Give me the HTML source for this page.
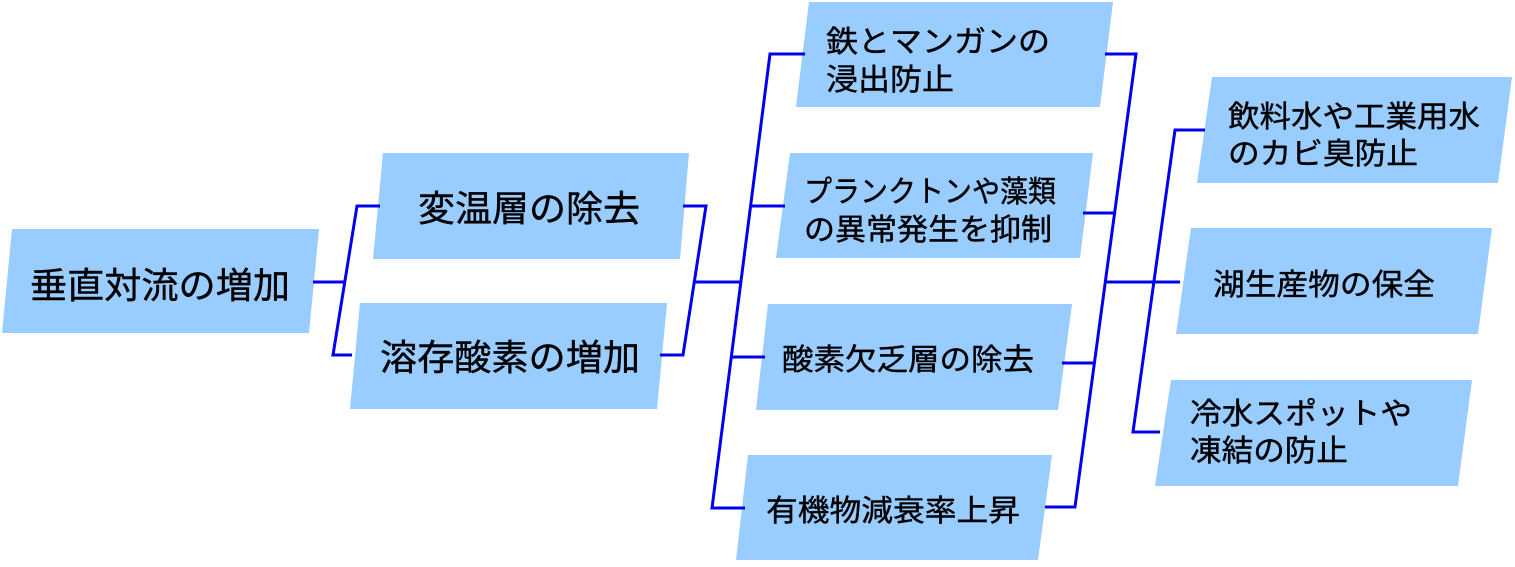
<!DOCTYPE html>
<html><head><meta charset="utf-8"><style>
html,body{margin:0;padding:0;background:#fff;}
svg{display:block;}
text{font-family:"Liberation Sans","Noto Sans CJK JP",sans-serif;fill:#000;stroke:#000;stroke-width:0.4;}
</style></head><body>
<svg width="1515" height="567" viewBox="0 0 1515 567" xmlns="http://www.w3.org/2000/svg">
<g fill="#99ccff">
<polygon points="12,229 319,229 309,333 2,333"/>
<polygon points="383,153 689,153 680,259 373,259"/>
<polygon points="360,303 667,303 657,409 350,409"/>
<polygon points="809,2 1113,2 1100,107 796,107"/>
<polygon points="790,153 1093,153 1080,258 776,258"/>
<polygon points="768,304 1072,304 1058,410 756,410"/>
<polygon points="748,455 1052,455 1038,560 736,560"/>
<polygon points="1212,77 1512,77 1498,183 1197,183"/>
<polygon points="1191,228 1492,228 1478,334 1176,334"/>
<polygon points="1171,380 1472,380 1458,486 1155,486"/>
</g>
<g stroke="#0000ee" stroke-width="3" fill="none">
<polyline points="313,282 345,282"/>
<polyline points="380,206 357,206 333,355 352,355"/>
<polyline points="683,206 706,206 683,355 660,355"/>
<polyline points="694,282 742,282"/>
<polyline points="805,54 770,54 712,508 745,508"/>
<polyline points="752,206 785,206"/>
<polyline points="732,357 765,357"/>
<polyline points="1105,54 1136,54 1075,507 1045,507"/>
<polyline points="1083,213 1116,213"/>
<polyline points="1062,363 1095,363"/>
<polyline points="1106,282 1180,282"/>
<polyline points="1205,130 1175,130 1133,432 1160,432"/>
</g>
<g font-size="36" textLength="260">
<text x="30" y="298" textLength="260" lengthAdjust="spacingAndGlyphs">垂直対流の増加</text>
<text x="418" y="221" textLength="222" lengthAdjust="spacingAndGlyphs">変温層の除去</text>
<text x="380" y="370" textLength="260" lengthAdjust="spacingAndGlyphs">溶存酸素の増加</text>
</g>
<g font-size="30">
<text x="826" y="52" textLength="224" lengthAdjust="spacingAndGlyphs">鉄とマンガンの</text>
<text x="826" y="90" textLength="128" lengthAdjust="spacingAndGlyphs">浸出防止</text>
<text x="804" y="202" textLength="252" lengthAdjust="spacingAndGlyphs">プランクトンや藻類</text>
<text x="804" y="240" textLength="248" lengthAdjust="spacingAndGlyphs">の異常発生を抑制</text>
<text x="782" y="370" textLength="252" lengthAdjust="spacingAndGlyphs">酸素欠乏層の除去</text>
<text x="766" y="521" textLength="254" lengthAdjust="spacingAndGlyphs">有機物減衰率上昇</text>
<text x="1228" y="127" textLength="252" lengthAdjust="spacingAndGlyphs">飲料水や工業用水</text>
<text x="1228" y="164" textLength="190" lengthAdjust="spacingAndGlyphs">のカビ臭防止</text>
<text x="1213" y="295" textLength="222" lengthAdjust="spacingAndGlyphs">湖生産物の保全</text>
<text x="1190" y="424" textLength="222" lengthAdjust="spacingAndGlyphs">冷水スポットや</text>
<text x="1190" y="461" textLength="158" lengthAdjust="spacingAndGlyphs">凍結の防止</text>
</g>
</svg>
</body></html>
